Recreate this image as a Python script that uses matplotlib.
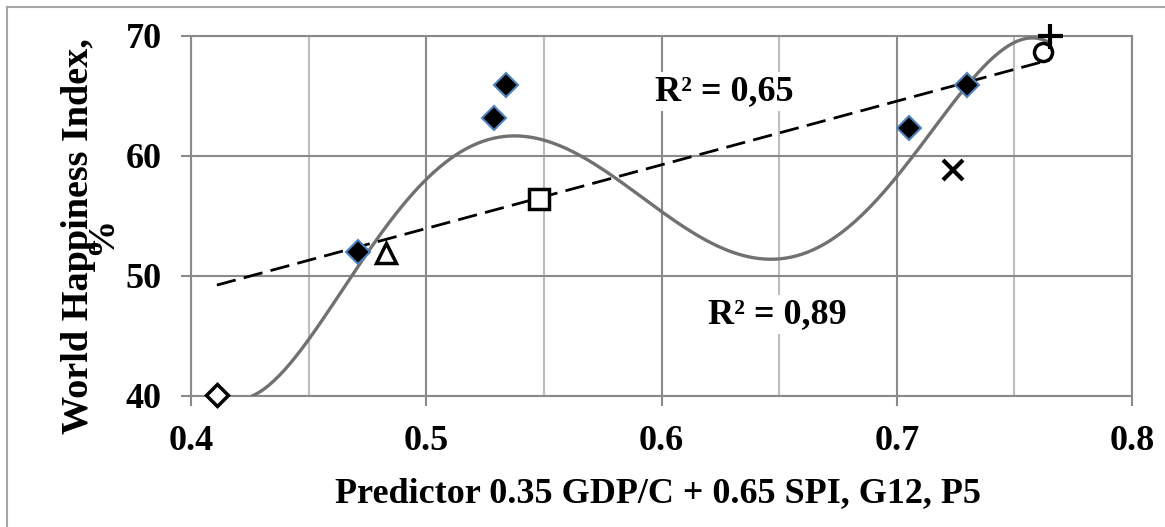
import numpy as np
import matplotlib
matplotlib.use("Agg")
import matplotlib.pyplot as plt
from matplotlib.lines import Line2D

plt.rcParams.update(
    {
        "font.family": "Liberation Serif",
        "font.weight": "bold",
        "font.size": 26,
    }
)

# predictor value and happiness index per country
predictor = [0.411, 0.471, 0.483, 0.529, 0.534, 0.548, 0.705, 0.724, 0.730, 0.762, 0.765]
happiness = [40.1, 52.0, 51.9, 63.2, 65.9, 56.4, 62.3, 58.8, 65.9, 68.7, 70.0]

# polynomial trend curve as it reads off the source chart
curve_x = [0.4264, 0.45, 0.4731, 0.4803, 0.50, 0.5369, 0.55, 0.5683, 0.60,
           0.648, 0.6887, 0.70, 0.7056, 0.73, 0.7341, 0.75, 0.7567, 0.7652]
curve_y = [40.0, 44.8, 51.3, 53.6, 57.8, 61.7, 61.3, 60.0, 55.2,
           51.3, 55.75, 58.25, 60.0, 65.75, 66.75, 69.4, 69.95, 69.4]

r2_labels = ["R² = 0,65", "R² = 0,89"]
x_ticks = [0.4, 0.5, 0.6, 0.7, 0.8]
y_ticks = [40, 50, 60, 70]

# marker style for each point above
blue_dia = dict(marker="D", ms=12, mfc="black", mec="#4f81bd", mew=1.5)
styles = [
    dict(marker="D", ms=11, mfc="white", mec="black", mew=2.5),
    blue_dia,
    dict(marker="^", ms=15, mfc="white", mec="black", mew=2.5),
    blue_dia,
    blue_dia,
    dict(marker="s", ms=15, mfc="white", mec="black", mew=2.5),
    blue_dia,
    dict(marker="x", ms=15, mec="black", mew=3),
    blue_dia,
    dict(marker="o", ms=13, mfc="none", mec="black", mew=2.5),
    dict(marker="+", ms=18, mec="black", mew=3),
]

fig = plt.figure(figsize=(11.65, 5.27), dpi=100)
ax = fig.add_axes([191 / 1165, 1 - 396 / 527, 941 / 1165, 360 / 527])

# linear trend fitted to the points
xs = np.array(predictor)
ys = np.array(happiness)
xx = np.linspace(xs.min(), xs.max(), 300)
lin = np.polyfit(xs, ys, 1)

# smooth the read-off curve with a polynomial, like the source trendline
cx = np.linspace(curve_x[0], curve_x[-1], 300)
poly = np.polyfit(curve_x, curve_y, 6)
ax.plot(cx, np.polyval(poly, cx), color="#717171", lw=2.4, zorder=3)
ax.plot(xx, np.polyval(lin, xx), color="black", lw=2, dashes=(7, 3), zorder=3)

for x, y, st in zip(predictor, happiness, styles):
    ax.plot([x], [y], ls="none", zorder=4, clip_on=False, **st)

ax.set_xlim(0.4, 0.8)
ax.set_ylim(40, 70)
ax.set_xticks(x_ticks)
ax.set_yticks(y_ticks)
ax.set_xticklabels([str(t) for t in x_ticks])
ax.set_xticks([0.45, 0.55, 0.65, 0.75], minor=True)
ax.tick_params(which="major", length=7, width=1.5, color="#8a8a8a", pad=14)
ax.tick_params(which="minor", length=0)
ax.grid(which="major", color="#8a8a8a", lw=1.5)
ax.grid(which="minor", axis="x", color="#bdbdbd", lw=1.5)
ax.set_axisbelow(True)
for sp in ax.spines.values():
    sp.set_color("#8a8a8a")
    sp.set_linewidth(1.5)

ax.text(0.5972, 64.67, r2_labels[0], ha="left", va="baseline", zorder=2,
        bbox=dict(fc="white", ec="none", pad=2))
ax.text(0.6198, 46.08, r2_labels[1], ha="left", va="baseline", zorder=2,
        bbox=dict(fc="white", ec="none", pad=2))

fig.text(658 / 1165, 1 - 502 / 527, "Predictor 0.35 GDP/C + 0.65 SPI, G12, P5",
         ha="center", va="baseline")
fig.text(90 / 1165, 1 - 236 / 527, "World Happiness Index,\n%", rotation=90,
         ha="center", va="center", multialignment="center", linespacing=0.55,
         fontsize=27.5)

# thin frame on top and left like the source chart
fig.add_artist(Line2D([7 / 1165, 1], [1 - 6.5 / 527] * 2, color="#a6a6a6", lw=1.5))
fig.add_artist(Line2D([7 / 1165] * 2, [0, 1 - 6.5 / 527], color="#a6a6a6", lw=1.5))

fig.savefig("out.png", dpi=100)
